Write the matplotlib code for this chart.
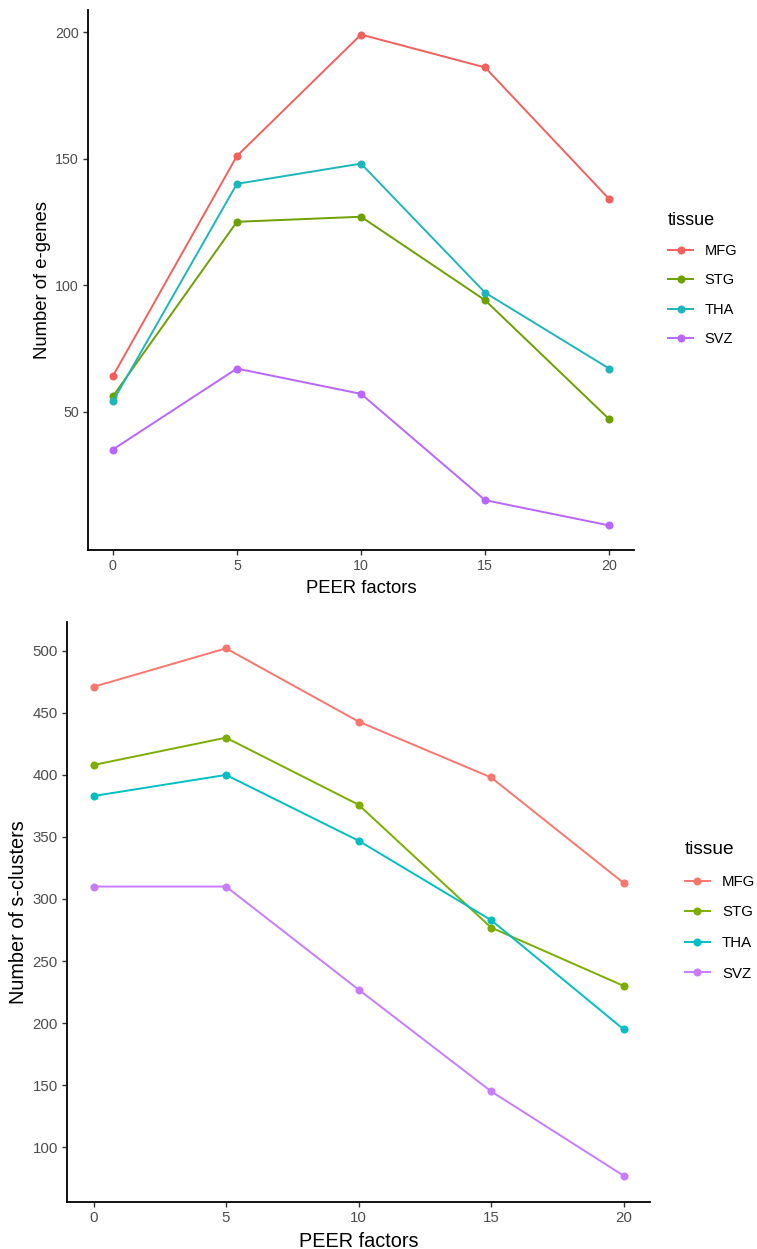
import matplotlib
matplotlib.use("Agg")
import matplotlib.pyplot as plt
from matplotlib.lines import Line2D

plt.rcParams['font.family'] = ['Liberation Sans', 'DejaVu Sans']

peer_factors = [0, 5, 10, 15, 20]
tissues = ["MFG", "STG", "THA", "SVZ"]

# Top panel: number of e-genes
egenes_MFG = [64, 151, 199, 186, 134]
egenes_STG = [56, 125, 127, 94, 47]
egenes_THA = [54, 140, 148, 97, 67]
egenes_SVZ = [35, 67, 57, 15, 5]

# Bottom panel: number of s-clusters
sclust_MFG = [471, 502, 443, 398, 313]
sclust_STG = [408, 430, 376, 277, 230]
sclust_THA = [383, 400, 347, 283, 195]
sclust_SVZ = [310, 310, 227, 145, 77]

top_colors = ["#F2605E", "#6DA100", "#1DB6BC", "#B866FF"]
bot_colors = ["#F8766D", "#7CAE00", "#00BFC4", "#C77CFF"]

W, H = 757, 1249
fig = plt.figure(figsize=(W / 100, H / 100), dpi=100)


def ax_at(l, t, r, b):
    return fig.add_axes([l / W, 1 - b / H, (r - l) / W, (b - t) / H])


def style(ax, tick_fs, lab_fs, ylabel, ypad):
    for s in ["top", "right"]:
        ax.spines[s].set_visible(False)
    for s in ["left", "bottom"]:
        ax.spines[s].set_linewidth(1.3)
        ax.spines[s].set_color("black")
    ax.tick_params(axis="both", length=3.5, width=1.0, color="#333333",
                   labelsize=tick_fs, labelcolor="#4D4D4D", pad=3)
    ax.set_xticks(peer_factors)
    ax.set_xlabel("PEER factors", fontsize=lab_fs, color="black", labelpad=5)
    ax.set_ylabel(ylabel, fontsize=lab_fs, color="black", labelpad=ypad)


def expand(vals):
    lo, hi = min(vals), max(vals)
    d = (hi - lo) * 0.05
    return lo - d, hi + d


MS = 5.8

# ---- Top panel
ax1 = ax_at(88, 10, 634, 550)
series1 = [egenes_MFG, egenes_STG, egenes_THA, egenes_SVZ]
for vals, c in zip(series1, top_colors):
    ax1.plot(peer_factors, vals, color=c, lw=1.4, marker="o", ms=MS, mew=0)
ax1.set_xlim(expand(peer_factors))
ax1.set_ylim(expand(sum(series1, [])))
ax1.set_yticks([50, 100, 150, 200])
style(ax1, 10.3, 13.3, "Number of e-genes", 3)

h1 = [Line2D([], [], color=c, lw=1.4, marker="o", ms=MS, mew=0) for c in top_colors]
leg1 = fig.legend(h1, tissues, title="tissue", loc="upper left",
                  bbox_to_anchor=(655 / W, 1 - 199 / H), frameon=False,
                  fontsize=10.5, title_fontsize=13, handlelength=1.7,
                  labelspacing=1.04, handletextpad=0.8, alignment="left")

# ---- Bottom panel
ax2 = ax_at(67, 622, 650, 1202)
series2 = [sclust_MFG, sclust_STG, sclust_THA, sclust_SVZ]
for vals, c in zip(series2, bot_colors):
    ax2.plot(peer_factors, vals, color=c, lw=1.4, marker="o", ms=MS, mew=0)
ax2.set_xlim(expand(peer_factors))
ax2.set_ylim(expand(sum(series2, [])))
ax2.set_yticks([100, 150, 200, 250, 300, 350, 400, 450, 500])
style(ax2, 10.8, 14.3, "Number of s-clusters", 3)

h2 = [Line2D([], [], color=c, lw=1.4, marker="o", ms=MS, mew=0) for c in bot_colors]
leg2 = fig.legend(h2, tissues, title="tissue", loc="upper left",
                  bbox_to_anchor=(671 / W, 1 - 828 / H), frameon=False,
                  fontsize=10.8, title_fontsize=13.8, handlelength=1.7,
                  labelspacing=1.1, handletextpad=0.8, alignment="left")

fig.savefig("out.png", dpi=100)
